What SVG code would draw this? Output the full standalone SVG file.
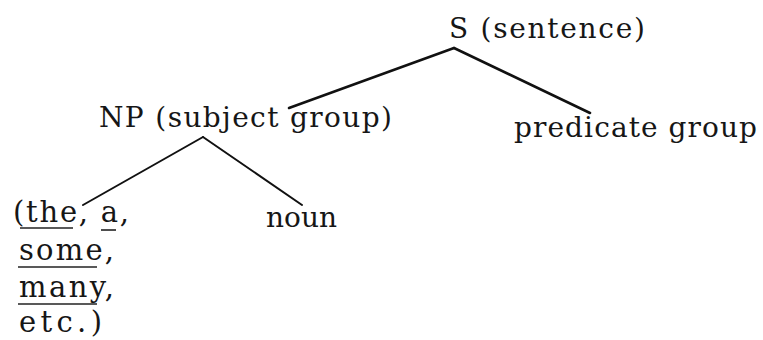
<svg xmlns="http://www.w3.org/2000/svg" width="763" height="340" viewBox="0 0 763 340">
  <style>
    .lbl { font-family: "DejaVu Serif", "Liberation Serif", serif; font-size: 28px; fill: #161616; }
    .big { font-size: 29px; }
    .edge { stroke: #111; fill: none; stroke-linecap: round; }
    .top { stroke-width: 2.6; }
    .sub { stroke-width: 2; }
    .ul { stroke: #222; stroke-width: 1.6; }
  </style>
  <rect width="763" height="340" fill="#fff"/>

  <g id="connectors">
    <line class="edge top" x1="454" y1="48" x2="289" y2="108"/>
    <line class="edge top" x1="454" y1="48" x2="590" y2="113"/>
    <line class="edge sub" x1="203" y1="137" x2="83" y2="205"/>
    <line class="edge sub" x1="203" y1="137" x2="302" y2="205"/>
  </g>

  <g id="node-s">
    <text class="lbl" x="449" y="38" textLength="196" lengthAdjust="spacing">S (sentence)</text>
  </g>

  <g id="node-np">
    <text class="lbl" x="99" y="127" textLength="293" lengthAdjust="spacing">NP (subject group)</text>
  </g>

  <g id="node-predicate">
    <text class="lbl" x="514" y="137" textLength="243" lengthAdjust="spacing">predicate group</text>
  </g>

  <g id="node-noun">
    <text class="lbl" x="266" y="227" textLength="71" lengthAdjust="spacing">noun</text>
  </g>

  <g id="node-determiners">
    <text class="lbl big" x="13" y="222" textLength="116" lengthAdjust="spacing">(the, a,</text>
    <text class="lbl big" x="19" y="260" textLength="95" lengthAdjust="spacing">some,</text>
    <text class="lbl big" x="19" y="297" textLength="95" lengthAdjust="spacing">many,</text>
    <text class="lbl big" x="19" y="332" textLength="83" lengthAdjust="spacing">etc.)</text>
    <line class="ul" x1="20" y1="228" x2="73" y2="228"/>
    <line class="ul" x1="101" y1="230" x2="116" y2="230"/>
    <line class="ul" x1="18" y1="267" x2="97" y2="267"/>
    <line class="ul" x1="18" y1="304" x2="97" y2="304"/>
  </g>
</svg>
